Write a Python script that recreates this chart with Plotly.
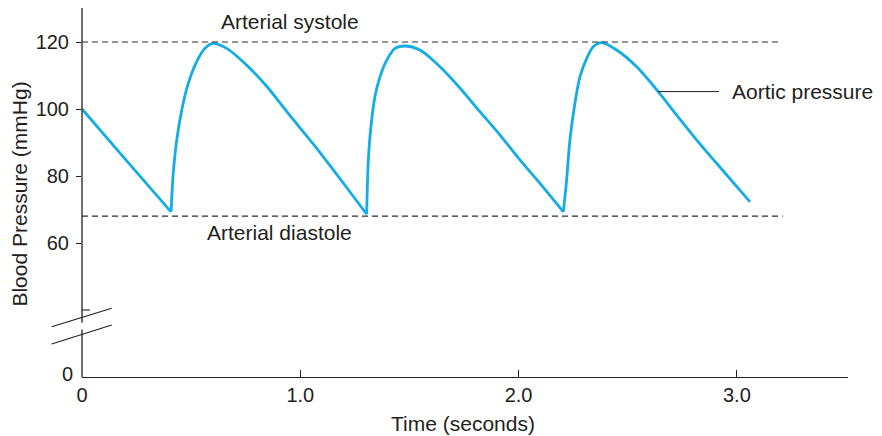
import plotly.graph_objects as go

# ── Aortic pressure trace ────────────────────────────────────────────────────
time_s = [0.000, 0.197, 0.408,
          0.418, 0.434, 0.457, 0.487, 0.525, 0.563, 0.599,
          0.663, 0.754, 0.846, 0.907, 0.953, 1.060, 1.213, 1.304,
          1.311, 1.322, 1.342, 1.365, 1.396, 1.434, 1.480,
          1.548, 1.640, 1.732, 1.823, 1.915, 2.006, 2.098, 2.205,
          2.220, 2.235, 2.258, 2.281, 2.312, 2.342, 2.381,
          2.449, 2.541, 2.633, 2.724, 2.816, 2.907, 3.060]
pressure = [100.0, 85.1, 69.3,
            80.8, 90.7, 99.7, 107.7, 114.1, 118.1, 119.6,
            118.1, 113.1, 106.8, 101.8, 98.0, 89.5, 76.5, 68.6,
            83.8, 93.7, 103.7, 109.6, 114.6, 118.1, 118.8,
            117.6, 112.6, 106.2, 99.2, 92.2, 84.8, 77.8, 69.3,
            78.8, 90.7, 101.7, 109.6, 115.1, 118.6, 119.8,
            117.6, 112.6, 105.7, 98.2, 90.7, 83.8, 72.3]
# indices of the troughs, where the curve has a sharp corner
troughs = [2, 17, 32]

SYSTOLE = 120
DIASTOLE = 68

# y axis is broken: the value 20 on the drawn scale stands for 0 mmHg
y_tickvals = [60, 80, 100, 120]
y_ticktext = ["60", "80", "100", "120"]
x_tickvals = [0, 1, 2, 3]
x_ticktext = ["0", "1.0", "2.0", "3.0"]

INK = "#231f20"
BLUE = "#14ace6"
FONT = "Liberation Sans, Arial, Helvetica, sans-serif"

fig = go.Figure()
# draw piecewise so the corners at each trough stay sharp
bounds = [0] + troughs + [len(time_s) - 1]
for a, b in zip(bounds[:-1], bounds[1:]):
    fig.add_trace(go.Scatter(
        x=time_s[a:b + 1], y=pressure[a:b + 1], mode="lines",
        line=dict(color=BLUE, width=2.8, shape="spline", smoothing=0.9),
        hoverinfo="skip", showlegend=False,
    ))

shapes = []
# dashed reference lines
for yv, xend in [(SYSTOLE, 3.19), (DIASTOLE, 3.21)]:
    shapes.append(dict(type="line", xref="x", yref="y", x0=0, x1=xend, y0=yv, y1=yv,
                       line=dict(color="#2e2e2e", width=1.2, dash="6px,4px")))
# y axis line in two pieces around the break
shapes.append(dict(type="line", xref="paper", yref="y", x0=0, x1=0, y0=36.2, y1=130.15,
                   line=dict(color=INK, width=1.3)))
shapes.append(dict(type="line", xref="paper", yref="y", x0=0, x1=0, y0=20, y1=34.2,
                   line=dict(color=INK, width=1.3)))
# break slashes
shapes.append(dict(type="line", xref="paper", yref="y", x0=-0.0396, x1=0.0388, y0=35.0, y1=40.5,
                   line=dict(color=INK, width=1.1)))
shapes.append(dict(type="line", xref="paper", yref="y", x0=-0.0396, x1=0.0388, y0=29.85, y1=35.5,
                   line=dict(color=INK, width=1.1)))
# small tick above the break
shapes.append(dict(type="line", xref="paper", yref="y", x0=0, x1=0.0104, y0=40, y1=40,
                   line=dict(color=INK, width=1.1)))
# leader line for the label
shapes.append(dict(type="line", xref="x", yref="y", x0=2.639, x1=2.918, y0=105.2, y1=105.2,
                   line=dict(color=INK, width=1)))

txt = dict(family=FONT, size=21, color=INK)
annotations = [
    dict(text="Arterial systole", x=0.628, y=126.0, xref="x", yref="y",
         xanchor="left", yanchor="middle", showarrow=False, font=txt),
    dict(text="Arterial diastole", x=0.563, y=63.0, xref="x", yref="y",
         xanchor="left", yanchor="middle", showarrow=False, font=txt),
    dict(text="Aortic pressure", x=2.968, y=105.1, xref="x", yref="y",
         xanchor="left", yanchor="middle", showarrow=False, font=txt),
    dict(text="0", x=-0.009, y=21, xref="paper", yref="y",
         xanchor="right", yanchor="middle", showarrow=False, font=dict(txt, size=20)),
    dict(text="Blood Pressure (mmHg)", x=-0.081, y=0.497, xref="paper", yref="paper",
         textangle=-90, xanchor="center", yanchor="middle", showarrow=False, font=txt),
    dict(text="Time (seconds)", x=0.497, y=-0.127, xref="paper", yref="paper",
         xanchor="center", yanchor="middle", showarrow=False, font=txt),
]

# page body adds an 8px offset, so the figure is 8px smaller on each axis
fig.update_layout(
    width=874, height=428,
    margin=dict(l=74, r=34, t=0, b=59),
    paper_bgcolor="white", plot_bgcolor="white",
    font=dict(family=FONT, color=INK),
    xaxis=dict(range=[0, 3.509], showgrid=False, zeroline=False,
               showline=True, linecolor=INK, linewidth=1.3,
               tickvals=x_tickvals, ticktext=x_ticktext,
               ticks="inside", ticklen=7, tickcolor=INK, tickwidth=1.1,
               tickfont=dict(family=FONT, size=20, color=INK)),
    yaxis=dict(range=[20, 130.15], showgrid=False, zeroline=False,
               showline=False,
               tickvals=y_tickvals, ticktext=y_ticktext,
               ticks="outside", ticklen=5, tickcolor=INK, tickwidth=1.1,
               ticklabelstandoff=3,
               tickfont=dict(family=FONT, size=20, color=INK)),
    shapes=shapes,
    annotations=annotations,
)

fig.write_html("out.html")
